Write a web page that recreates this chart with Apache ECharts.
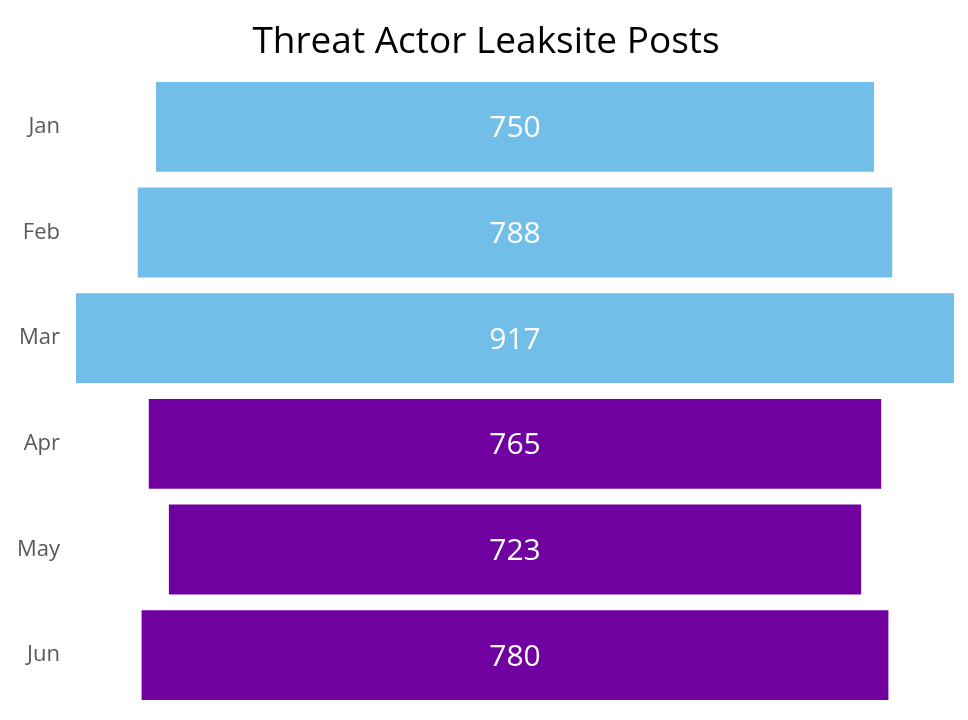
<!DOCTYPE html>
<html><head><meta charset="utf-8">
<script src="https://cdn.jsdelivr.net/npm/echarts@6/dist/echarts.min.js"></script>
<style>html,body{margin:0;padding:0;background:#fff}#c{width:968px;height:720px}</style>
</head><body><div id="c"></div>
<script>
const months = ['Jan','Feb','Mar','Apr','May','Jun'];
const posts = [750, 788, 917, 765, 723, 780];
const barColors = ['#71BFE9','#71BFE9','#71BFE9','#7000A0','#7000A0','#7000A0'];

const maxV = Math.max(...posts);
const offsets = posts.map(v => (maxV - v) / 2);
const chart = echarts.init(document.getElementById('c'));
chart.setOption({
  animation: false,
  title: {text: 'Threat Actor Leaksite Posts', left: 481, textAlign: 'center', top: 19,
    textStyle: {fontFamily: 'Open Sans', fontSize: 37, fontWeight: 'normal', color: '#000'}},
  grid: {left: 76, right: 14, top: 74, bottom: 12},
  xAxis: {type: 'value', min: 0, max: maxV, show: false},
  yAxis: {type: 'category', data: months, inverse: true,
    axisLine: {show: false}, axisTick: {show: false},
    axisLabel: {fontFamily: 'Open Sans', fontSize: 22, color: '#595959', margin: 16}},
  series: [
    {type: 'bar', stack: 's', data: offsets, itemStyle: {color: 'transparent'}, barCategoryGap: '15%', silent: true},
    {type: 'bar', stack: 's', data: posts.map((v, i) => ({value: v, itemStyle: {color: barColors[i]}})),
      label: {show: true, position: 'inside', color: '#fff', fontFamily: 'Open Sans', fontSize: 30, offset: [0, 2]}}
  ]
});
</script></body></html>
